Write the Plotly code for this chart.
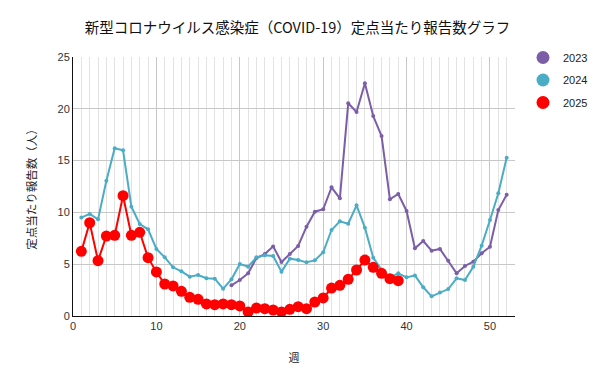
import plotly.graph_objects as go

weeks_2023 = list(range(19, 53))
values_2023 = [2.96, 3.47, 4.12, 5.6, 5.98, 6.72, 5.21, 5.98, 6.76, 8.62, 10.07, 10.3,
               12.42, 11.36, 20.53, 19.69, 22.46, 19.3, 17.37, 11.26, 11.78, 10.14,
               6.53, 7.24, 6.3, 6.47, 5.34, 4.12, 4.83, 5.24, 6.05, 6.69, 10.23, 11.71]

weeks_2024 = list(range(1, 53))
values_2024 = [9.5, 9.85, 9.33, 13.06, 16.2, 16.0, 10.55, 8.88, 8.37, 6.47, 5.66, 4.7,
               4.31, 3.8, 3.96, 3.64, 3.6, 2.64, 3.54, 5.02, 4.76, 5.66, 5.86, 5.79,
               4.28, 5.53, 5.4, 5.18, 5.37, 6.15, 8.3, 9.14, 8.91, 10.68, 8.53, 5.63,
               4.44, 3.73, 4.12, 3.73, 3.92, 2.77, 1.9, 2.28, 2.6, 3.64, 3.47, 4.76,
               6.79, 9.27, 11.84, 15.28]

weeks_2025 = list(range(1, 40))
values_2025 = [6.24, 9.0, 5.34, 7.72, 7.79, 11.61, 7.79, 8.08, 5.63, 4.25, 3.09, 2.9,
               2.38, 1.8, 1.61, 1.16, 1.09, 1.16, 1.09, 0.97, 0.39, 0.77, 0.71, 0.58,
               0.39, 0.64, 0.9, 0.71, 1.35, 1.74, 2.7, 2.96, 3.54, 4.44, 5.4, 4.7,
               4.12, 3.6, 3.41]

series_names = ["2023", "2024", "2025"]
colors = ["#7b5ea7", "#4bacc6", "#ff0000"]

title_text = "新型コロナウイルス感染症（COVID-19）定点当たり報告数グラフ"
y_title = "定点当たり報告数（人）"
x_title = "週"

FONT = "Noto Sans CJK JP"
NUMFONT = "Liberation Sans"

W, H = 592, 376

fig = go.Figure()

fig.add_trace(go.Scatter(x=weeks_2023, y=values_2023, mode="lines+markers",
                         line=dict(color=colors[0], width=2),
                         marker=dict(size=4, color=colors[0]), showlegend=False))
fig.add_trace(go.Scatter(x=weeks_2024, y=values_2024, mode="lines+markers",
                         line=dict(color=colors[1], width=2),
                         marker=dict(size=4, color=colors[1]), showlegend=False))
fig.add_trace(go.Scatter(x=weeks_2025, y=values_2025, mode="lines+markers",
                         line=dict(color=colors[2], width=2),
                         marker=dict(size=11, color=colors[2]), showlegend=False))

for name, c in zip(series_names, colors):
    fig.add_trace(go.Scatter(x=[None], y=[None], mode="markers", name=name,
                             legendgroup=name,
                             marker=dict(size=13, color=c)))

fig.update_layout(
    width=W, height=H,
    margin=dict(l=65, r=85, t=49, b=68, autoexpand=False),
    paper_bgcolor="white", plot_bgcolor="white",
    font=dict(family=FONT, size=11, color="#222222"),
    title=dict(text=title_text, x=289.5 / W, xanchor="center", y=1 - 20 / H,
               yanchor="middle", font=dict(size=14.5, color="#111111", family=FONT)),
    legend=dict(xref="container", yref="container", x=515 / W, y=1 - 35 / H,
                xanchor="left", yanchor="top", tracegroupgap=3.5,
                font=dict(size=11, color="#222222", family=NUMFONT), itemwidth=30,
                bgcolor="rgba(0,0,0,0)"),
    xaxis=dict(range=[0, 53], tick0=0, dtick=10, showgrid=True, gridcolor="#c8c8c8",
               gridwidth=1, zeroline=False, showline=True, linecolor="#111111",
               linewidth=1, ticks="", tickfont=dict(size=11, color="#333333", family=NUMFONT),
               title=dict(text=x_title, font=dict(size=11), standoff=23),
               minor=dict(dtick=1, tick0=0, showgrid=True, gridcolor="#e3e3e3",
                          gridwidth=1)),
    yaxis=dict(range=[0, 25], tick0=0, dtick=5, showgrid=True, gridcolor="#c8c8c8",
               gridwidth=1, zeroline=False, showline=True, linecolor="#111111",
               linewidth=1, ticks="", tickfont=dict(size=11, color="#333333", family=NUMFONT),
               title=dict(text=y_title, font=dict(size=11.5), standoff=18)),
)

fig.write_html("out.html")
